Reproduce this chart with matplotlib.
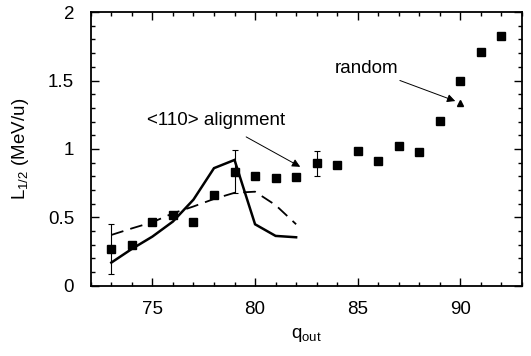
import matplotlib
matplotlib.use('Agg')
import matplotlib.pyplot as plt
from matplotlib.ticker import MultipleLocator

plt.rcParams['font.family'] = ['Liberation Sans', 'DejaVu Sans']

# measured points (squares)
q_meas = [73, 74, 75, 76, 77, 78, 79, 80, 81, 82, 83, 84, 85, 86, 87, 88, 89, 90, 91, 92]
L_meas = [0.27, 0.30, 0.465, 0.515, 0.465, 0.665, 0.835, 0.80, 0.787, 0.795,
          0.895, 0.886, 0.985, 0.915, 1.025, 0.977, 1.205, 1.497, 1.705, 1.825]

# points with error bars
q_err = [73, 79, 83]
L_err = [0.27, 0.835, 0.895]
dL_err = [0.18, 0.16, 0.09]

# random value (triangle)
q_rand = [90]
L_rand = [1.333]

# calculations
q_calc = [73, 74, 75, 76, 77, 78, 79, 80, 81, 82]
L_solid = [0.17, 0.27, 0.36, 0.47, 0.63, 0.86, 0.92, 0.45, 0.365, 0.355]
L_dashed = [0.372, 0.42, 0.465, 0.53, 0.58, 0.635, 0.68, 0.688, 0.59, 0.45]

FS = 13.5

fig, ax = plt.subplots(figsize=(5.31, 3.56), dpi=100)
fig.subplots_adjust(left=0.171, right=0.983, top=0.966, bottom=0.197)

ax.plot(q_calc, L_solid, color='black', lw=1.8, solid_joinstyle='miter')
ax.plot(q_calc, L_dashed, color='black', lw=1.3, dashes=(7, 4))
ax.errorbar(q_err, L_err, yerr=dL_err, fmt='none', ecolor='black',
            elinewidth=0.8, capsize=2.5, capthick=0.8)
ax.plot(q_meas, L_meas, 's', color='black', ms=5.5)
ax.plot(q_rand, L_rand, '^', color='black', ms=4.5)

ax.annotate('<110> alignment', xy=(82.2, 0.87), xytext=(78.1, 1.21),
            ha='center', va='center', fontsize=FS,
            arrowprops=dict(arrowstyle='-|>', color='black', lw=0.7,
                            mutation_scale=12, shrinkA=8, shrinkB=0))
ax.annotate('random', xy=(89.75, 1.35), xytext=(85.45, 1.59),
            ha='center', va='center', fontsize=FS,
            arrowprops=dict(arrowstyle='-|>', color='black', lw=0.7,
                            mutation_scale=12, shrinkA=2, shrinkB=0))

ax.set_xlim(72, 93)
ax.set_ylim(0, 2)
ax.xaxis.set_major_locator(MultipleLocator(5))
ax.xaxis.set_minor_locator(MultipleLocator(1))
ax.yaxis.set_major_locator(MultipleLocator(0.5))
ax.yaxis.set_minor_locator(MultipleLocator(0.1))
ax.set_yticks([0, 0.5, 1, 1.5, 2])
ax.set_yticklabels(['0', '0.5', '1', '1.5', '2'])

ax.tick_params(which='both', direction='in', top=True, right=True,
               labelsize=FS, width=1)
ax.tick_params(which='major', length=6)
ax.tick_params(axis='x', which='major', pad=11)
ax.tick_params(axis='y', which='major', pad=12)
ax.tick_params(which='minor', length=3)
for s in ax.spines.values():
    s.set_linewidth(1.3)

ax.set_xlabel(r'q$_{\mathregular{out}}$', fontsize=FS, labelpad=6)
ax.set_ylabel(r'L$_{\mathregular{1/2}}$ (MeV/u)', fontsize=FS, labelpad=12)

fig.savefig('out.png', dpi=100)
